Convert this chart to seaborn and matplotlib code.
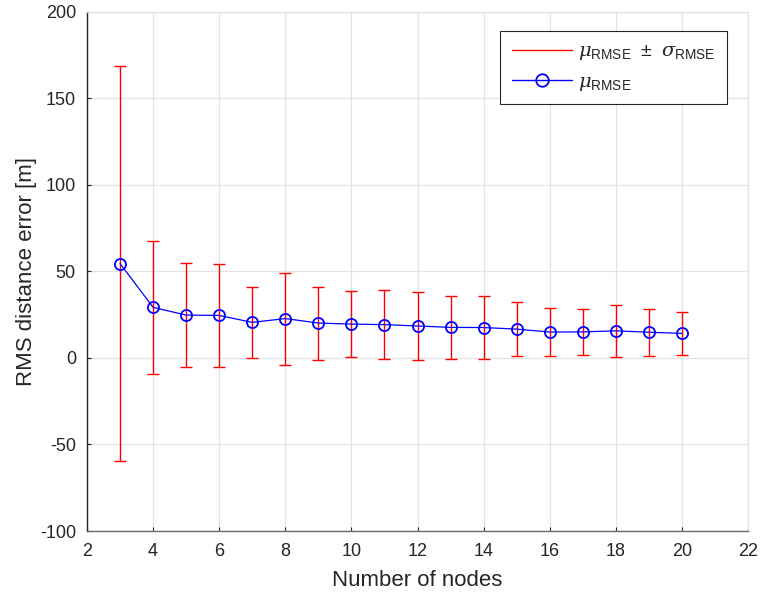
import matplotlib
matplotlib.use("Agg")
import matplotlib.pyplot as plt
import seaborn as sns
import numpy as np
import pandas as pd
from matplotlib.lines import Line2D

nodes = [3, 4, 5, 6, 7, 8, 9, 10, 11, 12, 13, 14, 15, 16, 17, 18, 19, 20]
mean_rmse = [54.6, 29.3, 24.8, 24.6, 20.6, 22.8, 20.2, 19.6, 19.3, 18.5, 17.7, 17.6, 16.7, 15.0, 15.1, 15.7, 14.9, 14.2]
std_rmse = [114.0, 38.3, 30.0, 30.0, 20.7, 26.6, 21.1, 19.0, 19.8, 19.7, 18.2, 18.4, 15.7, 13.8, 13.3, 15.2, 13.5, 12.4]
x_ticks = [2, 4, 6, 8, 10, 12, 14, 16, 18, 20, 22]
y_ticks = [-100, -50, 0, 50, 100, 150, 200]

sns.set_theme(style="whitegrid")
plt.rcParams['font.family'] = ['Liberation Sans', 'DejaVu Sans']
plt.rcParams['axes.unicode_minus'] = False
plt.rcParams['mathtext.fontset'] = 'custom'
plt.rcParams['mathtext.rm'] = 'Liberation Sans'
plt.rcParams['mathtext.it'] = 'DejaVu Serif:italic'
plt.rcParams['mathtext.sf'] = 'Liberation Sans'

df = pd.DataFrame({"nodes": nodes, "mean": mean_rmse, "std": std_rmse})

fig = plt.figure(figsize=(7.6, 5.98), dpi=100)
ax = fig.add_axes([87/760, 1-531/598, (748-87)/760, (531-12)/598])
ax.set_facecolor("white")

ax.errorbar(df["nodes"], df["mean"], yerr=df["std"], fmt='none', ecolor='#ff0000',
            elinewidth=1.0, capsize=4, capthick=1.0, zorder=2)
sns.lineplot(data=df, x="nodes", y="mean", ax=ax, color='#0000ff', marker='o',
             markersize=8, markerfacecolor='none', markeredgecolor='#0000ff',
             markeredgewidth=1.3, linewidth=0.9, zorder=3)

ax.set_xlim(2, 22)
ax.set_ylim(-100, 200)
ax.set_xticks(x_ticks)
ax.set_yticks(y_ticks)
ax.grid(True, color='#e3e3e3', linewidth=0.9)
ax.spines['top'].set_visible(True)
ax.spines['right'].set_visible(True)
ax.spines['top'].set_color('#e3e3e3')
ax.spines['right'].set_color('#e3e3e3')
ax.spines['left'].set_color('#262626')
ax.spines['bottom'].set_color('#6a6a6a')
for s in ax.spines.values():
    s.set_linewidth(0.9)
ax.spines['left'].set_linewidth(1.0)
ax.spines['bottom'].set_linewidth(1.0)
ax.tick_params(direction='in', length=3, width=0.8, colors='#262626', labelsize=13,
               top=False, right=False, bottom=True, left=True)
ax.tick_params(axis='y', pad=8)
ax.tick_params(axis='x', pad=9)
ax.set_xlabel("Number of nodes", fontsize=16, color='#262626')
ax.set_ylabel("RMS distance error [m]", fontsize=16, color='#262626')
ax.yaxis.set_label_coords((27 - 87) / 661, 0.5)
ax.xaxis.set_label_coords(0.5, (531 - 580) / 519)
ax.yaxis.label.set_va('center')
ax.xaxis.label.set_va('center')

handles = [Line2D([0], [0], color='#ff0000', linewidth=1.0),
           Line2D([0], [0], color='#0000ff', linewidth=1.0, marker='o', markersize=9,
                  markerfacecolor='none', markeredgewidth=1.3)]
labels = [r'$\mu_{\mathsf{RMSE}}\ \pm\ \sigma_{\mathsf{RMSE}}$', r'$\mu_{\mathsf{RMSE}}$']
leg = ax.legend(handles, labels, loc='upper right', bbox_to_anchor=(0.968, 0.963),
                borderaxespad=0, fontsize=14, frameon=True, fancybox=False,
                edgecolor='#262626', framealpha=1, handlelength=3.1, handletextpad=0.3,
                borderpad=0.6, labelspacing=0.55)
leg.get_frame().set_linewidth(0.8)

fig.savefig("out.png", dpi=100)
